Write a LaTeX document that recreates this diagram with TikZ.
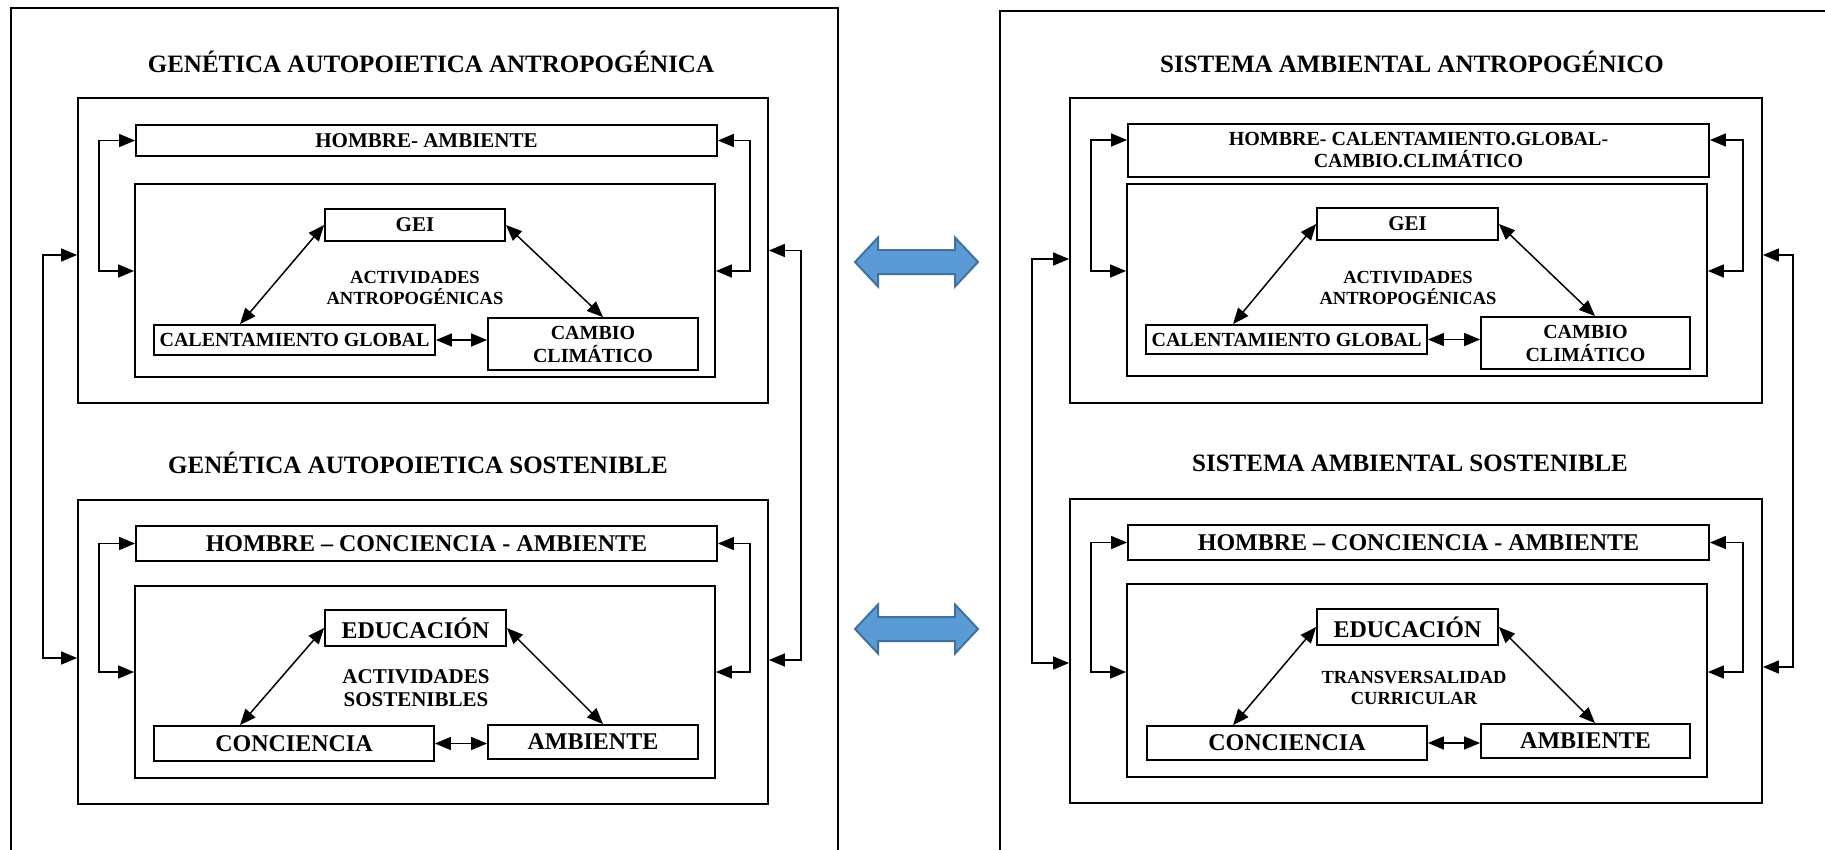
\documentclass[tikz,border=0pt]{standalone}
\usepackage{fontspec}
\setmainfont{Liberation Serif}
\usetikzlibrary{arrows.meta}
\definecolor{azul}{HTML}{5B9BD5}
\definecolor{azulborde}{HTML}{41719C}

\begin{document}
\begin{tikzpicture}[x=1pt,y=-1pt,
    letra/.style 2 args={font=\fontsize{#1}{#2}\selectfont\bfseries},
    caja/.style={draw, line width=1.8pt, inner sep=0pt, align=center},
    marco/.style={line width=1.8pt},
    fb/.style={line width=1.5pt, >={Triangle[length=16pt,width=13pt]}, <->},
    flecha/.style={draw=azulborde, fill=azul, line width=2pt, line join=miter}]
  \useasboundingbox (0,0) rectangle (1825,849);
  \clip (0,0) rectangle (1825,849);

  % marcos exteriores
  \draw[marco] (11,870) |- (838,8) -- (838,870);
  \draw[marco] (1000,870) |- (1850,11);

  % flechas azules
  \foreach \y in {262,629}
    \draw[flecha] (855,\y) -- ++(23,-24.5) -- ++(0,12.5) -- ++(77,0) -- ++(0,-12.5) -- ++(23,24.5)
      -- ++(-23,24.5) -- ++(0,-12.5) -- ++(-77,0) -- ++(0,12.5) -- cycle;

  % genetica autopoietica antropogenica
  \node[letra={25}{28}] (tA) at (431,62) {GENÉTICA AUTOPOIETICA ANTROPOGÉNICA};
  \node[caja, minimum width=690pt, minimum height=305pt] (mA) at (423,250.5) {};
  \node[caja, minimum width=581pt, minimum height=31pt, letra={21}{24}] (hA) at (426.5,140.5) {HOMBRE- AMBIENTE};
  \node[caja, minimum width=580pt, minimum height=193pt] (iA) at (425,280.5) {};
  \node[caja, minimum width=180pt, minimum height=32pt, letra={21}{24}] (gA) at (415,225) {GEI};
  \node[caja, minimum width=281pt, minimum height=30pt, letra={20}{23}] (cA) at (294.5,340) {CALENTAMIENTO GLOBAL};
  \node[caja, minimum width=210pt, minimum height=52pt, letra={20}{23}] (kA) at (593,344) {CAMBIO\\CLIMÁTICO};
  \node[letra={18.5}{21}, align=center] (xA) at (415,287.5) {ACTIVIDADES\\ANTROPOGÉNICAS};
  \draw[fb] (gA.west) -- ([xshift=-54.5pt]cA.north);
  \draw[fb] (gA.east) -- ([xshift=10pt]kA.north);
  \draw[fb] (cA.east) -- (cA.east -| kA.west);
  \draw[fb] (hA.west) -- ++(-36,0) |- ([yshift=9.5pt]iA.west);
  \draw[fb] (hA.east) -- ++(32,0) |- ([yshift=9.5pt]iA.east);

  % genetica autopoietica sostenible
  \node[letra={25}{28}] (tB) at (418,463) {GENÉTICA AUTOPOIETICA SOSTENIBLE};
  \node[caja, minimum width=690pt, minimum height=304pt] (mB) at (423,652) {};
  \node[caja, minimum width=581pt, minimum height=35pt, letra={24}{27}] (hB) at (426.5,543.5) {HOMBRE – CONCIENCIA - AMBIENTE};
  \node[caja, minimum width=580pt, minimum height=192pt] (iB) at (425,682) {};
  \node[caja, minimum width=181pt, minimum height=36pt, letra={24}{27}] (gB) at (415.5,628) {EDUCACIÓN};
  \node[caja, minimum width=280pt, minimum height=35pt, letra={24}{27}] (cB) at (294,743.5) {CONCIENCIA};
  \node[caja, minimum width=210pt, minimum height=34pt, letra={24}{27}] (kB) at (593,742) {AMBIENTE};
  \node[letra={21}{23}, align=center] (xB) at (416,688) {ACTIVIDADES\\SOSTENIBLES};
  \draw[fb] (gB.west) -- ([xshift=-54pt]cB.north);
  \draw[fb] (gB.east) -- ([xshift=10pt]kB.north);
  \draw[fb] (cB.east) -- (cB.east -| kB.west);
  \draw[fb] (hB.west) -- ++(-36,0) |- ([yshift=10pt]iB.west);
  \draw[fb] (hB.east) -- ++(32,0) |- ([yshift=10pt]iB.east);

  % lazos exteriores (izquierda)
  \draw[fb] ([yshift=-4.5pt]mA.west) -- ++(-34,0) |- ([yshift=-6pt]mB.west);
  \draw[fb] (mA.east) -- ++(32,0) |- ([yshift=-8pt]mB.east);

  % sistema ambiental antropogenico
  \node[letra={25}{28}] (tC) at (1412,62) {SISTEMA AMBIENTAL ANTROPOGÉNICO};
  \node[caja, minimum width=692pt, minimum height=305pt] (mC) at (1416,250.5) {};
  \node[caja, minimum width=581pt, minimum height=53pt, letra={20}{22}] (hC) at (1418.5,150.5) {HOMBRE- CALENTAMIENTO.GLOBAL-\\CAMBIO.CLIMÁTICO};
  \node[caja, minimum width=580pt, minimum height=192pt] (iC) at (1417,280) {};
  \node[caja, minimum width=181pt, minimum height=32pt, letra={21}{24}] (gC) at (1407.5,224) {GEI};
  \node[caja, minimum width=281pt, minimum height=29pt, letra={20}{23}] (cC) at (1286.5,339.5) {CALENTAMIENTO GLOBAL};
  \node[caja, minimum width=209pt, minimum height=52pt, letra={20}{23}] (kC) at (1585.5,343) {CAMBIO\\CLIMÁTICO};
  \node[letra={18.5}{21}, align=center] (xC) at (1408,287.5) {ACTIVIDADES\\ANTROPOGÉNICAS};
  \draw[fb] (gC.west) -- ([xshift=-53.5pt]cC.north);
  \draw[fb] (gC.east) -- ([xshift=9.5pt]kC.north);
  \draw[fb] (cC.east) -- (cC.east -| kC.west);
  \draw[fb] ([yshift=10.5pt]hC.west) -- ++(-36,0) |- ([yshift=9pt]iC.west);
  \draw[fb] ([yshift=10.5pt]hC.east) -- ++(33,0) |- ([yshift=9pt]iC.east);

  % sistema ambiental sostenible
  \node[letra={25}{28}] (tD) at (1410,463) {SISTEMA AMBIENTAL SOSTENIBLE};
  \node[caja, minimum width=692pt, minimum height=304pt] (mD) at (1416,651) {};
  \node[caja, minimum width=581pt, minimum height=35pt, letra={24}{27}] (hD) at (1418.5,542.5) {HOMBRE – CONCIENCIA - AMBIENTE};
  \node[caja, minimum width=580pt, minimum height=193pt] (iD) at (1417,680.5) {};
  \node[caja, minimum width=181pt, minimum height=36pt, letra={24}{27}] (gD) at (1407.5,627) {EDUCACIÓN};
  \node[caja, minimum width=280pt, minimum height=34pt, letra={24}{27}] (cD) at (1287,743) {CONCIENCIA};
  \node[caja, minimum width=209pt, minimum height=34pt, letra={24}{27}] (kD) at (1585.5,741) {AMBIENTE};
  \node[letra={18.5}{21}, align=center] (xD) at (1414,687.5) {TRANSVERSALIDAD\\CURRICULAR};
  \draw[fb] (gD.west) -- ([xshift=-54pt]cD.north);
  \draw[fb] (gD.east) -- ([xshift=9.5pt]kD.north);
  \draw[fb] (cD.east) -- (cD.east -| kD.west);
  \draw[fb] (hD.west) -- ++(-36,0) |- ([yshift=8.5pt]iD.west);
  \draw[fb] (hD.east) -- ++(33,0) |- ([yshift=8.5pt]iD.east);

  % lazos exteriores (derecha)
  \draw[fb] ([yshift=-8.5pt]mC.west) -- ++(-37,0) |- ([yshift=-12pt]mD.west);
  \draw[fb] ([yshift=-4.5pt]mC.east) -- ++(30,0) |- ([yshift=-16pt]mD.east);
\end{tikzpicture}
\end{document}
